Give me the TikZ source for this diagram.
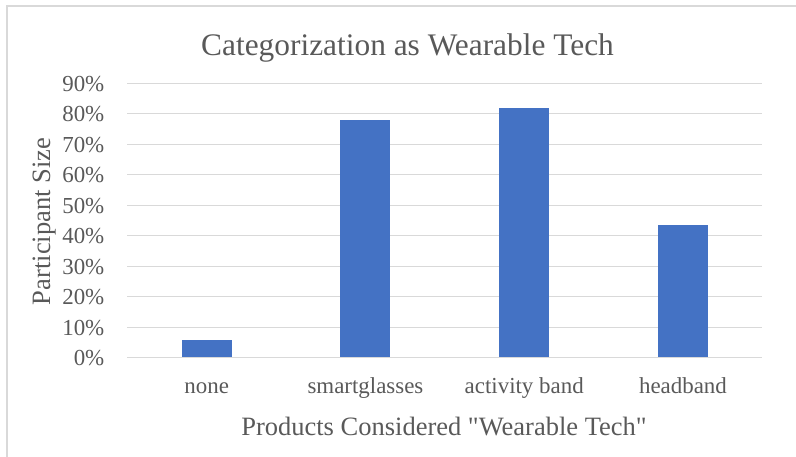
\documentclass[tikz,border=0pt]{standalone}
\usepackage{fontspec}
\setmainfont{Liberation Serif}[Ligatures=TeXOff]
\definecolor{txtgray}{HTML}{595959}
\definecolor{gridgray}{HTML}{D9D9D9}
\definecolor{barblue}{HTML}{4472C4}
\begin{document}
\begin{tikzpicture}[x=1bp,y=-1bp,
  gridline/.style={draw=gridgray,line width=1.1bp},
  barrect/.style={fill=barblue},
  ticklab/.style={text=txtgray,anchor=base east,inner sep=0pt,font=\fontsize{23}{23}\selectfont},
  catlab/.style={text=txtgray,anchor=base,inner sep=0pt,font=\fontsize{23}{23}\selectfont},
  axtitle/.style={text=txtgray,anchor=base,inner sep=0pt,font=\fontsize{26.6}{26.6}\selectfont},
  charttitle/.style={text=txtgray,anchor=base,inner sep=0pt,font=\fontsize{31.5}{31.5}\selectfont}]
\useasboundingbox (0,0) rectangle (796,457);
\clip (0,0) rectangle (796,457);
% chart frame (only left and top edges visible)
\draw[draw=gridgray,line width=1.3bp] (7,470) -- (7,6) -- (810,6);
% gridlines and tick labels
\foreach \i in {0,...,9}{
  \pgfmathsetmacro{\yy}{357.7-\i*30.49}
  \draw[gridline] (127,\yy) -- (762,\yy);
  \ifnum\i=0
    \node[ticklab] (t\i) at (104.5,\yy+8) {0\%};
  \else
    \node[ticklab] (t\i) at (104.5,\yy+8) {\i0\%};
  \fi
}
% bars
\foreach \k/\v/\lab in {0/5.5/none,1/77.9/smartglasses,2/81.8/activity band,3/43.2/headband}{
  \pgfmathsetmacro{\cx}{206.7+\k*158.75}
  \pgfmathsetmacro{\top}{357.2-\v*3.049}
  \fill[barrect] (\cx-25,357.2) rectangle (\cx+25,\top);
  \node[catlab] (c\k) at (\cx,393.3) {\lab};
}
\node[charttitle] (title) at (407.5,56) {Categorization as Wearable Tech};
\node[axtitle] (xtitle) at (444,435.7) {Products Considered "Wearable Tech"};
\node[axtitle,rotate=90] (ytitle) at (50,221.5) {Participant Size};
\end{tikzpicture}
\end{document}
